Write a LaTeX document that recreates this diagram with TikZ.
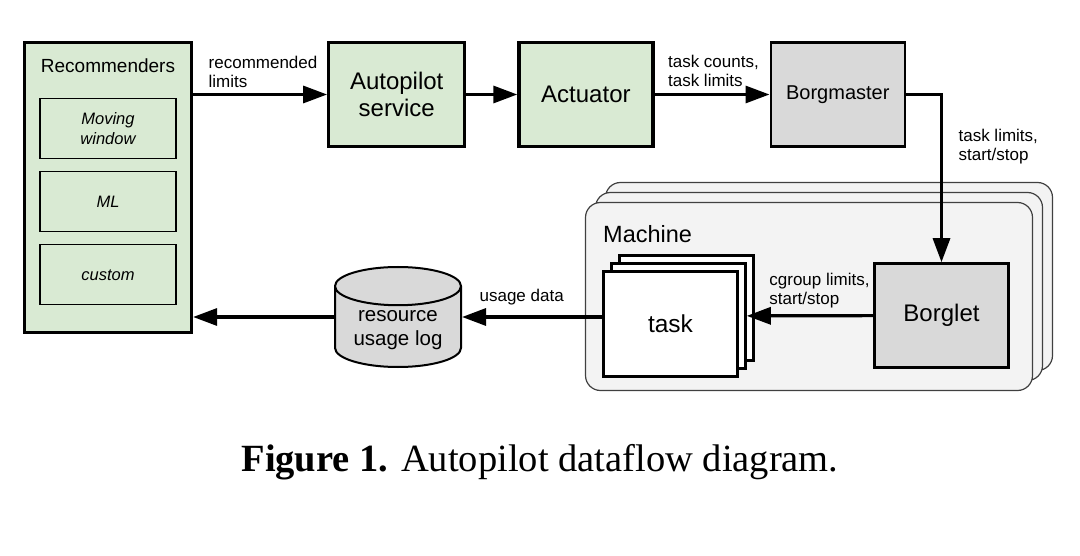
\documentclass[tikz,border=0pt]{standalone}
\usepackage{fontspec}
\setsansfont{Liberation Sans}
\newfontfamily\capfont{Liberation Serif}
\usepackage{tikz}
\usepackage{xcolor}
\usetikzlibrary{shapes.geometric}
\usetikzlibrary{positioning}
\usetikzlibrary{arrows.meta}

\definecolor{recgreen}{HTML}{D9EAD3}
\definecolor{borggray}{HTML}{D9D9D9}
\definecolor{machgray}{HTML}{F3F3F3}

\begin{document}
\begin{tikzpicture}[x=1pt, y=-1pt, >={Triangle[length=24pt, width=17pt]},
    greenbox/.style={draw, line width=3.2pt, fill=recgreen, align=center, font=\sffamily\fontsize{24}{27.5}\selectfont},
    graybox/.style={draw, line width=2.6pt, fill=borggray, minimum width=134pt, minimum height=104pt},
    subbox/.style={draw, line width=1.2pt, fill=recgreen, minimum width=136pt, minimum height=60pt, align=center, font=\sffamily\itshape\fontsize{16.5}{20}\selectfont},
    taskbox/.style={draw, line width=2.6pt, fill=white, minimum width=134pt, minimum height=105pt, font=\sffamily\fontsize{24.5}{28}\selectfont},
    machbox/.style={draw=black!75, line width=1.2pt, fill=machgray, rounded corners=15pt, minimum width=447pt, minimum height=188pt},
    logdb/.style={cylinder, shape border rotate=90, aspect=0.4, draw, line width=2pt, fill=borggray, minimum width=126pt, minimum height=100pt, align=center, font=\sffamily\fontsize{20.5}{24}\selectfont},
    flow/.style={->, line width=3.2pt},
    lbl/.style={inner sep=0pt, align=left, font=\sffamily\fontsize{17}{19}\selectfont}]
    \useasboundingbox (0,0) rectangle (1080,556);

    % recommenders
    \node[greenbox, minimum width=167pt, minimum height=290pt] (rec) at (108,187.5) {};
    \node[inner sep=0pt, font=\sffamily\fontsize{19}{22}\selectfont] (rectitle) [below=18pt of rec.north] {Recommenders};
    \node[subbox] (mw) [below=57pt of rec.north] {Moving\\window};
    \node[subbox] (ml) [below=12pt of mw] {ML};
    \node[subbox] (cu) [below=12pt of ml] {custom};

    % top row
    \node[greenbox, minimum width=136pt, minimum height=104pt] (auto) [right=134pt of rec.north east, anchor=north west] {Autopilot\\service};
    \node[greenbox, minimum width=134pt, minimum height=104pt] (act) [right=51pt of auto] {Actuator};
    \node[graybox, font=\sffamily\fontsize{20}{24}\selectfont] (bm) [right=115pt of act] {Borgmaster};

    % machines
    \node[machbox] (mach3) at (829,276.5) {};
    \node[machbox] (mach2) at (819,286.5) {};
    \node[machbox] (mach) at (809,296.5) {};
    \node[inner sep=0pt, anchor=west, font=\sffamily\fontsize{23.5}{27}\selectfont] (machtxt) at (603,234) {Machine};

    \node[taskbox] (task3) at (686.5,308) {};
    \node[taskbox] (task2) at (678.5,316) {};
    \node[taskbox] (task) at (670.5,324) {task};
    \node[graybox, font=\sffamily\fontsize{24}{28}\selectfont] (bl) at (941.5,315.5) {Borglet};

    \node[logdb, anchor=shape center] (log) at (398,317) {resource\\usage log};

    \draw[flow] (rec.east |- auto) -- (auto) node[lbl, pos=0, anchor=north west, xshift=14pt, yshift=40pt] {recommended\\limits};
    \draw[flow] (auto) -- (act);
    \draw[flow] (act) -- (bm) node[lbl, pos=0, anchor=north west, xshift=12pt, yshift=41pt] {task counts,\\task limits};
    \draw[flow] (bm) -| (bl) node[lbl, pos=0.6, anchor=north west, xshift=15.5pt] {task limits,\\start/stop};
    \draw[flow] (bl) -- (task2) node[lbl, pos=1, anchor=north west, xshift=21pt, yshift=44pt] {cgroup limits,\\start/stop};
    \draw[flow] (task.west |- log.shape center) -- (log.shape center -| log.east) node[lbl, pos=1, anchor=north west, xshift=16pt, yshift=29pt] {usage data};
    \draw[flow] (log.shape center -| log.west) -- (log.shape center -| rec.east);

    \node[anchor=base, font=\capfont\fontsize{38.5}{44}\selectfont] (cap) at (540,471) {\textbf{Figure 1.} Autopilot dataflow diagram.};
\end{tikzpicture}
\end{document}
